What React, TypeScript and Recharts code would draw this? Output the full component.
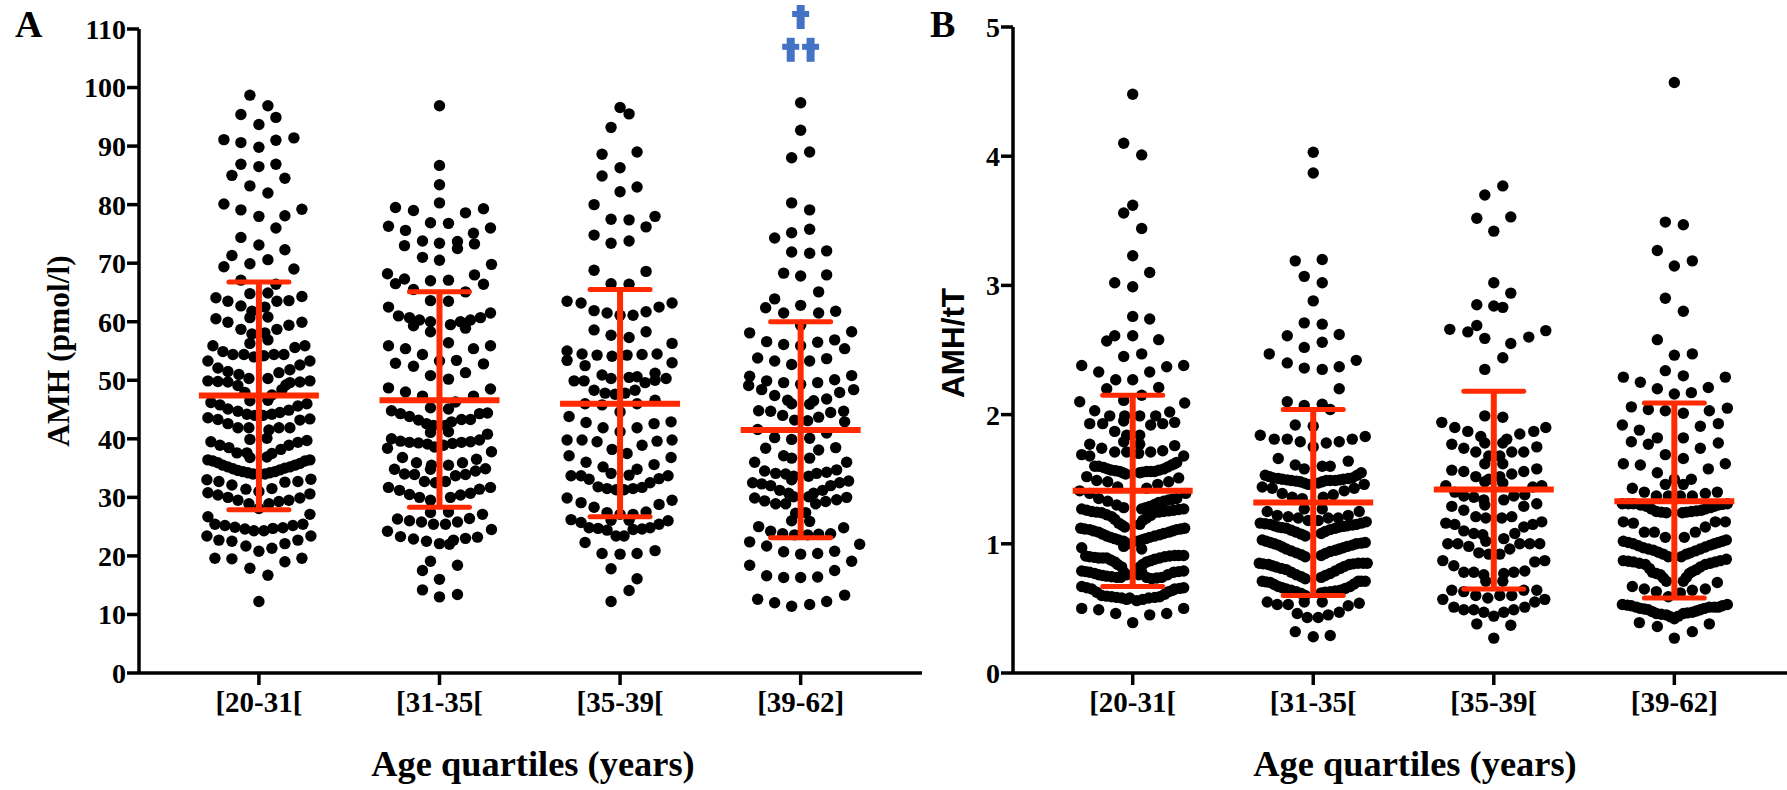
import React from 'react';
import { ScatterChart, Scatter, XAxis, YAxis } from 'recharts';

const categories = ['[20-31[', '[31-35[', '[35-39[', '[39-62]'];
const amhTicks = [0, 10, 20, 30, 40, 50, 60, 70, 80, 90, 100, 110];
const ratioTicks = [0, 1, 2, 3, 4, 5];

// each point is [sideways offset in the swarm (1/180 of a category), value]
const amhQ1: number[][] = [
  [-9,98.7],[9,96.9],[-18,95.4],[17,94.9],[0,93.7],[-35,91.1],[-18,90.6],[0,89.8],[17,91],[35,91.4],
  [-18,86.9],[0,86.5],[17,86.9],[-27,85],[26,84.5],[-9,83.2],[9,82],[-35,80.1],[-18,79.1],[0,78],
  [26,78.1],[43,79.2],[17,76],[-18,74.4],[0,73.1],[26,72.3],[-27,71.3],[9,70.6],[-9,69.9],[-35,69.4],
  [35,69],[-18,67.1],[17,66.4],[-9,64.8],[9,64.9],[-43,64.1],[-31,63.5],[-18,62.7],[18,63.5],[30,63.6],
  [43,64.3],[-7,61.8],[6,62.5],[-9,60.7],[9,60.8],[-43,60.5],[-31,59.9],[-18,58.7],[18,58.7],[30,59.4],
  [43,59.9],[-7,57.9],[6,58.1],[-9,56.3],[9,56.9],[-46,55.9],[46,55.9],[36,55.6],[-36,54.9],[-26,54.4],
  [-15,54.4],[-5,54],[5,54.2],[15,54.4],[25,54.4],[-51,53.3],[51,53.3],[-41,52.1],[41,52.6],[-31,51.5],
  [31,51.8],[-20,51],[20,51.3],[-10,50.3],[9,50.3],[-51,49.9],[-41,49.8],[-31,49.7],[-21,49.1],[51,49.9],
  [41,49.7],[31,49.6],[27,49.2],[23,48.4],[-14,47.9],[13,47.5],[-9,46.5],[9,46.6],[-48,46.2],[-39,45.8],
  [-31,45.1],[-21,44.7],[-12,44.2],[-4,44],[4,44],[13,44.2],[21,44.5],[30,44.9],[39,45.6],[48,46],
  [-51,43.6],[-41,43.3],[-31,42.6],[-21,41.9],[-10,41.9],[51,43.4],[41,43.2],[31,41.9],[20,41.9],[10,41.5],
  [8,40.1],[-9,39.9],[48,39.7],[39,39.4],[30,38.9],[22,38.2],[13,37.5],[8,36.9],[-48,39.5],[-39,38.9],
  [-30,38.5],[-22,37.6],[-12,37.6],[-9,36.8],[-51,36.4],[-46,36.2],[-41,35.9],[-36,35.5],[-31,35.2],[-26,34.9],
  [-21,34.6],[-16,34.4],[-11,34.2],[-6,34],[0,33.9],[6,34],[11,34.2],[16,34.4],[21,34.7],[26,35],
  [31,35.2],[36,35.5],[41,35.8],[46,36.2],[51,36.4],[-52,33],[-40,32.7],[-27,32.1],[-13,31.4],[0,31],
  [13,31.5],[26,32.6],[39,32.7],[52,33.1],[-51,30.8],[-41,30.4],[-31,30],[-21,29.5],[-10,28.9],[0,28.1],
  [10,28.9],[20,29.3],[30,29.5],[41,29.9],[51,30.6],[-51,26.7],[51,27.1],[-44,25.4],[-34,25.2],[-24,24.9],
  [-14,24.6],[-5,24.3],[5,24.3],[14,24.7],[24,24.8],[34,25.2],[44,25.4],[-52,23.4],[-40,22.7],[-27,22.5],
  [-13,21.7],[0,20.8],[13,21.3],[26,22.1],[39,22.7],[52,23.4],[-44,19.6],[-27,19.5],[-9,17.9],[9,16.7],
  [26,19],[43,19.6],[0,12.2],
];
const amhQ2: number[][] = [
  [0,96.9],[0,86.7],[0,83.4],[0,80.3],[-44,79.5],[-26,79],[26,78.6],[44,79.3],[-51,76.3],[-34,75.6],
  [-9,76.9],[9,76.8],[34,75.1],[51,76],[-17,73.8],[0,73.4],[18,73.7],[18,72.5],[-35,73],[35,73.3],
  [-17,71],[0,70.5],[52,69.8],[-52,68.2],[-44,66.5],[-35,67.3],[-9,67],[9,67.1],[35,68],[44,66.4],
  [-26,65.5],[26,65.1],[-9,63.6],[9,63.5],[-51,62.5],[-41,61],[-30,60.7],[-20,60.3],[-26,59.3],[-9,60],
  [11,59.5],[21,60],[31,60.3],[41,60.7],[51,61.5],[26,58.9],[-9,58.3],[9,56.4],[-51,55.9],[-34,55.4],
  [-17,54.4],[34,55.4],[51,55.9],[-44,52.9],[-26,52.4],[0,53.3],[17,53.4],[44,52.8],[-9,50.8],[9,50.2],
  [26,51.3],[-51,48.7],[-34,48],[-17,47.3],[34,47.3],[51,48.5],[-9,45.3],[9,45.1],[16,46.3],[-48,44.8],
  [-39,44.3],[-30,43.8],[-21,43.2],[-13,42.6],[-6,42.3],[6,42.3],[12,42.9],[22,43.3],[31,43.3],[40,44.3],
  [48,44.4],[-9,41.1],[9,41.2],[-48,40],[-39,39.6],[-30,39.4],[-21,39.3],[-12,39.1],[-5,38.6],[4,38.9],
  [13,39.2],[22,39.4],[31,39.5],[40,39.8],[48,40.8],[-52,38.4],[-37,36.8],[-23,35.9],[-8,35.5],[9,35.5],
  [23,35.9],[37,36.5],[52,37.8],[-9,34.8],[-45,34.8],[-35,34],[-25,33.9],[-15,32.7],[-4,32.5],[6,32.7],
  [16,33.7],[26,33.9],[36,34.5],[46,34.9],[-51,31.7],[-40,31.2],[-30,30.5],[-20,30],[-9,29.5],[11,30],
  [21,30.4],[31,30.7],[40,31.4],[51,31.7],[-9,27.4],[9,27.5],[43,27.1],[-42,26.3],[-30,26],[-18,25.8],
  [-6,25.4],[6,25.4],[18,25.8],[30,26.4],[-52,24.2],[-39,23.3],[-26,22.9],[-13,22.5],[0,22.1],[10,22],
  [14,22.7],[26,23],[38,23.2],[52,24.5],[-9,19.1],[-17,17.5],[18,18.4],[0,16],[-17,14.2],[18,13.4],[0,13],
];
const amhQ3: number[][] = [
  [0,96.6],[9,95.5],[-9,93.2],[-18,88.6],[17,89],[0,86.3],[-18,84.9],[17,83],[0,82.2],[-26,80],
  [35,78],[-9,77.5],[9,77.4],[26,76.2],[-26,74.8],[-9,73.4],[9,73.8],[-26,68.8],[26,68.6],[-9,66.5],
  [9,66.4],[-53,63.5],[-39,63.2],[52,63.2],[39,62.5],[-26,61.9],[-13,61.5],[0,61.1],[13,61.1],[26,61.7],
  [-26,58.6],[-9,57.7],[9,57.3],[26,58.3],[52,56.3],[-53,55],[-53,53.4],[-38,54.5],[-23,54.3],[-8,54.1],
  [7,54.3],[22,54.4],[37,54.5],[52,53],[-35,52.5],[-18,50.9],[-9,50.3],[9,50.5],[17,50.6],[35,51.2],
  [-46,49.9],[-36,49.9],[35,50],[46,50.3],[25,49.6],[-26,48.3],[-15,47.8],[-5,47.6],[5,47.8],[15,48.3],
  [35,46.6],[-35,46],[-18,45.8],[17,46],[0,44.6],[-51,43.8],[-34,42.8],[-17,41.9],[0,41.2],[17,41.9],
  [34,42.6],[51,42.9],[-53,39.8],[-38,39.8],[-23,39.5],[-8,38.2],[7,37.5],[22,38.9],[37,39.6],[52,39.8],
  [-51,37.1],[-34,36],[-17,35.2],[51,36.8],[34,35.6],[17,34.8],[-9,34.1],[9,33.8],[-49,33.7],[-39,33.7],
  [-31,33.1],[-22,31.8],[-13,31.5],[-4,31.3],[4,31.3],[13,31.5],[22,31.7],[30,32.5],[39,33.2],[48,33.7],
  [-53,29.9],[-39,29.1],[-26,28.3],[-13,27.4],[0,27.1],[13,27.1],[26,27.5],[39,28.8],[52,29.5],[-49,26.2],
  [-39,25.7],[-31,24.8],[-22,24.7],[-13,24.4],[-9,26.1],[9,26.1],[-4,23.4],[4,23.4],[13,24.5],[22,24.6],
  [30,24.8],[39,25.4],[48,26],[-35,22.3],[-18,20.4],[0,20.3],[17,20.4],[35,20.9],[-9,17.8],[17,16.1],
  [9,14.1],[-9,12.2],
];
const amhQ4: number[][] = [
  [0,97.4],[0,92.7],[-9,88],[9,89],[-9,80.3],[9,79.1],[-9,75.2],[9,75.8],[-26,74.3],[-9,71.9],
  [9,71.7],[26,72.1],[-17,68.3],[0,67.8],[26,68],[18,65.1],[-26,63.9],[-35,62.4],[-17,61.5],[0,62.8],
  [18,61.5],[35,61.8],[0,59.4],[-51,58.1],[51,58.3],[-34,56.6],[-17,56.1],[0,55.9],[17,56.5],[34,56.9],
  [44,55.4],[-43,53.8],[-26,53.3],[-9,52.7],[9,53.3],[26,53.7],[-51,50.7],[51,50.8],[-34,49.9],[-52,49.1],
  [-17,49.6],[0,49.3],[17,49.6],[34,50.1],[-39,48.4],[53,48.4],[39,47.9],[-26,47.4],[-13,46.6],[-9,46],
  [9,45.9],[13,46.5],[26,46.8],[-42,44.8],[-30,44.7],[-18,44],[-6,43.2],[7,43.1],[18,43.7],[30,44.5],
  [43,44.7],[44,42.9],[-43,41.6],[26,41],[-26,40.2],[-9,39.9],[9,40.1],[-35,38.4],[18,38.1],[35,38.5],
  [-17,37.1],[-9,36.7],[9,36.7],[-46,36],[46,36],[-36,34.5],[-25,34.1],[-15,34],[-7,33.6],[-9,33],
  [8,33.6],[16,34.1],[26,34.3],[36,34.7],[-48,32.5],[-39,32.3],[-30,32],[-21,31.2],[-12,30.7],[-7,30.1],
  [8,30.1],[13,30.7],[22,31.2],[30,32],[39,32.5],[48,32.8],[-46,29.9],[-36,29.4],[-25,28.9],[-15,28.9],
  [15,28.9],[25,29.3],[36,29.6],[46,30],[-5,27.3],[5,27.4],[-9,26],[9,25.9],[-42,25],[43,24.8],
  [-30,24.2],[-18,23.8],[-6,23.6],[7,23.6],[18,23.7],[30,23.8],[-51,22.4],[-34,21.7],[-17,20.7],[0,20.3],
  [17,20.4],[34,20.8],[59,22],[51,19.1],[-51,18.4],[-34,16.6],[-17,16.3],[0,16.3],[17,16.4],[34,17.5],
  [-43,12.6],[-26,12],[-9,11.4],[9,11.7],[26,12.2],[44,13.3],
];

const ratioQ1: number[][] = [
  [0,4.48],[-9,4.1],[9,4.01],[0,3.62],[-9,3.56],[9,3.44],[0,3.23],[17,3.1],[-18,3.02],[0,2.99],
  [0,2.76],[17,2.74],[-18,2.61],[0,2.61],[-26,2.57],[26,2.58],[9,2.47],[-9,2.45],[-51,2.38],[51,2.38],
  [34,2.37],[-34,2.33],[17,2.33],[-17,2.27],[0,2.27],[-26,2.2],[26,2.21],[9,2.15],[-9,2.11],[-53,2.1],
  [52,2.09],[-38,2.03],[37,2.02],[-23,1.99],[23,1.99],[-8,1.99],[7,1.99],[-43,1.93],[-30,1.93],[-9,1.95],
  [18,1.92],[30,1.93],[42,1.94],[-18,1.87],[7,1.84],[-6,1.84],[-9,1.79],[7,1.77],[-43,1.77],[42,1.76],
  [-31,1.74],[-18,1.71],[-6,1.71],[6,1.7],[18,1.71],[30,1.72],[-51,1.69],[-43,1.68],[51,1.68],[-38,1.6],
  [-29,1.59],[-21,1.57],[-13,1.56],[-7,1.54],[7,1.55],[14,1.56],[22,1.56],[31,1.58],[39,1.61],[44,1.63],
  [-46,1.52],[46,1.51],[-36,1.49],[-25,1.48],[-15,1.44],[36,1.48],[25,1.46],[14,1.43],[-53,1.41],[-43,1.39],
  [53,1.39],[44,1.35],[-34,1.35],[-25,1.33],[-16,1.3],[-9,1.28],[36,1.34],[26,1.32],[17,1.29],[9,1.27],
  [-51,1.27],[-41,1.25],[-31,1.24],[-21,1.21],[-14,1.16],[-8,1.13],[51,1.27],[41,1.26],[31,1.25],[21,1.24],
  [14,1.2],[7,1.15],[-52,1.12],[-43,1.11],[-34,1.09],[-26,1.06],[-18,1.04],[-9,1.02],[-9,0.98],[9,0.96],
  [52,1.12],[44,1.11],[36,1.09],[27,1.07],[17,1.05],[9,1.03],[-51,0.97],[-43,0.9],[-34,0.89],[-26,0.89],
  [-18,0.86],[-11,0.82],[7,0.82],[14,0.86],[22,0.88],[32,0.9],[42,0.91],[51,0.91],[-51,0.79],[-43,0.78],
  [-34,0.76],[-26,0.75],[-16,0.74],[-9,0.78],[9,0.78],[19,0.73],[29,0.74],[41,0.78],[51,0.79],[-51,0.67],
  [-41,0.65],[51,0.66],[42,0.65],[-31,0.6],[-21,0.59],[-11,0.58],[4,0.56],[16,0.58],[27,0.59],[36,0.63],
  [-3,0.58],[-51,0.5],[-34,0.49],[-17,0.46],[17,0.45],[34,0.46],[51,0.5],[0,0.39],
  [-34,1.6],[-25,1.58],[-17,1.565],[-10,1.55],[10,1.555],[18,1.56],[26,1.57],[35,1.595],[42,1.62],
  [-46,1.26],[-36,1.245],[-26,1.225],[-18,1.19],[-11,1.145],[46,1.265],[36,1.255],[26,1.245],[18,1.22],[10,1.18],
  [40,1.345],[31,1.33],[22,1.305],[13,1.28],
  [-48,1.115],[-39,1.1],[-30,1.075],[-22,1.05],[-14,1.03],[-5,1],[5,1.02],[13,1.04],[22,1.06],[31,1.08],[40,1.1],[48,1.115],
  [-47,0.905],[-38,0.895],[-30,0.89],[-22,0.875],[-15,0.84],[10,0.84],[18,0.87],[27,0.89],[37,0.905],[46,0.91],
  [-47,0.785],[-38,0.77],[-30,0.755],[-21,0.745],[-12,0.74],[-6,0.76],[6,0.76],[14,0.74],[24,0.735],[35,0.76],[46,0.785],
  [-46,0.66],[-36,0.625],[-26,0.595],[-16,0.585],[-6,0.57],[10,0.57],[22,0.585],[32,0.61],[40,0.64],[47,0.655],
];
const ratioQ2: number[][] = [
  [0,4.03],[0,3.87],[-18,3.19],[9,3.2],[-9,3.07],[9,3.02],[0,2.88],[-9,2.71],[9,2.7],[-26,2.61],
  [26,2.62],[-9,2.52],[9,2.56],[-44,2.47],[-26,2.4],[-9,2.36],[9,2.35],[26,2.37],[26,2.2],[43,2.42],
  [-26,2.1],[-9,2.07],[9,2.08],[17,2.04],[-18,1.92],[0,1.91],[-53,1.84],[-39,1.81],[-26,1.81],[-13,1.79],
  [0,1.75],[13,1.78],[26,1.79],[52,1.83],[39,1.81],[-35,1.66],[-18,1.61],[-9,1.58],[9,1.6],[17,1.6],
  [35,1.64],[-48,1.53],[-40,1.51],[-31,1.5],[-22,1.49],[-13,1.48],[-5,1.46],[5,1.47],[13,1.49],[22,1.49],
  [30,1.5],[39,1.51],[48,1.55],[-51,1.44],[-41,1.43],[-31,1.39],[-21,1.36],[-11,1.35],[10,1.36],[20,1.38],
  [31,1.41],[41,1.43],[51,1.46],[-9,1.27],[9,1.27],[-46,1.25],[-36,1.22],[-25,1.21],[-15,1.2],[-5,1.18],
  [5,1.18],[15,1.2],[25,1.2],[35,1.22],[46,1.25],[-53,1.16],[-43,1.15],[-35,1.13],[-27,1.12],[-17,1.09],
  [-8,1.06],[8,1.08],[17,1.11],[26,1.13],[34,1.14],[43,1.15],[53,1.17],[-51,1.03],[-43,1.01],[-35,0.99],
  [-27,0.96],[-17,0.93],[-8,0.9],[8,0.91],[17,0.94],[26,0.96],[34,0.98],[43,1],[52,1.01],[-54,0.85],
  [-45,0.84],[-37,0.82],[-27,0.8],[-17,0.76],[-8,0.73],[8,0.74],[17,0.77],[27,0.81],[36,0.84],[45,0.85],
  [54,0.85],[-51,0.71],[-43,0.7],[-35,0.67],[-27,0.65],[-17,0.63],[-8,0.6],[8,0.62],[17,0.63],[27,0.64],
  [37,0.67],[45,0.71],[52,0.71],[-46,0.55],[-36,0.53],[-25,0.53],[-9,0.55],[9,0.55],[35,0.52],[46,0.54],
  [-16,0.46],[-6,0.43],[5,0.43],[15,0.45],[26,0.47],[-18,0.32],[0,0.28],[17,0.29],
  [-44,1.52],[-35,1.505],[-26,1.495],[-17,1.485],[-9,1.47],[9,1.48],[17,1.49],[26,1.495],[35,1.505],[44,1.53],
  [-48,1.155],[-39,1.14],[-31,1.125],[-22,1.105],[-12,1.075],[12,1.095],[22,1.12],[30,1.135],[39,1.145],[48,1.16],
  [-47,1.02],[-39,1],[-31,0.975],[-22,0.945],[-12,0.915],[12,0.925],[22,0.95],[30,0.97],[39,0.99],[48,1.005],
  [-50,0.845],[-41,0.83],[-32,0.81],[-22,0.78],[-12,0.745],[12,0.755],[22,0.79],[31,0.825],[40,0.845],[50,0.85],
  [-47,0.705],[-39,0.685],[-31,0.66],[-22,0.64],[-12,0.615],[12,0.625],[22,0.635],[32,0.655],[41,0.69],[48,0.71],
];
const ratioQ3: number[][] = [
  [9,3.77],[-9,3.7],[-17,3.52],[17,3.53],[0,3.42],[0,3.02],[17,2.94],[-17,2.85],[0,2.84],[9,2.83],
  [-17,2.69],[-44,2.66],[-26,2.64],[-9,2.59],[52,2.65],[35,2.6],[17,2.55],[9,2.44],[-9,2.35],[-9,1.99],
  [9,1.98],[-52,1.94],[-39,1.9],[-26,1.87],[52,1.9],[40,1.87],[26,1.85],[-13,1.83],[13,1.81],[-9,1.78],
  [9,1.78],[-42,1.77],[-30,1.74],[-18,1.71],[43,1.75],[30,1.71],[18,1.71],[-5,1.68],[6,1.68],[-9,1.62],
  [9,1.62],[-42,1.57],[-30,1.56],[-18,1.52],[43,1.58],[30,1.56],[18,1.54],[-5,1.5],[6,1.52],[-9,1.48],
  [9,1.47],[-48,1.45],[48,1.45],[39,1.44],[-39,1.4],[-30,1.37],[-20,1.36],[-10,1.34],[10,1.34],[20,1.37],
  [31,1.38],[-9,1.3],[-42,1.29],[-30,1.26],[43,1.31],[30,1.29],[-18,1.21],[-8,1.2],[8,1.2],[18,1.21],
  [-48,1.16],[-39,1.15],[-30,1.1],[-20,1.08],[-11,1.07],[-8,1.02],[10,1.04],[21,1.08],[30,1.13],[39,1.15],
  [48,1.17],[-46,1],[-36,1],[-25,0.98],[-15,0.93],[-5,0.92],[6,0.92],[16,0.96],[26,1],[36,1],
  [46,1],[-51,0.87],[-40,0.83],[-30,0.78],[-20,0.78],[-10,0.76],[10,0.77],[20,0.78],[31,0.79],[41,0.86],
  [51,0.87],[-8,0.71],[9,0.71],[-42,0.64],[-30,0.63],[-18,0.6],[-6,0.58],[6,0.6],[18,0.6],[30,0.64],
  [43,0.64],[-51,0.57],[51,0.57],[41,0.55],[-40,0.51],[-30,0.49],[-20,0.49],[-10,0.47],[0,0.44],[10,0.47],
  [20,0.49],[31,0.51],[-17,0.38],[17,0.37],[0,0.27],
];
const ratioQ4: number[][] = [
  [0,4.57],[-9,3.49],[9,3.47],[-17,3.27],[0,3.15],[18,3.19],[-9,2.9],[9,2.8],[-17,2.58],[0,2.46],
  [18,2.47],[-9,2.34],[9,2.3],[-51,2.29],[-34,2.25],[-17,2.2],[0,2.16],[17,2.17],[34,2.21],[51,2.29],
  [-43,2.06],[-26,2.04],[-9,2.03],[9,2.01],[35,2.03],[53,2.05],[-52,1.92],[-35,1.88],[26,1.91],[44,1.93],
  [-43,1.79],[-26,1.77],[-17,1.82],[9,1.82],[26,1.74],[44,1.78],[-9,1.69],[9,1.66],[-51,1.62],[-34,1.61],
  [34,1.58],[51,1.62],[-17,1.55],[0,1.5],[17,1.5],[-9,1.46],[9,1.46],[-42,1.43],[-30,1.4],[-18,1.37],
  [-6,1.37],[6,1.37],[18,1.37],[31,1.39],[43,1.4],[-52,1.31],[-41,1.31],[-28,1.29],[-18,1.25],[-8,1.24],
  [8,1.24],[17,1.25],[27,1.26],[36,1.28],[44,1.3],[53,1.31],[-51,1.17],[-41,1.16],[-30,1.09],[-20,1.09],
  [-9,1.05],[10,1.05],[21,1.09],[31,1.13],[41,1.17],[51,1.17],[-51,1.02],[-41,1],[-31,0.97],[-21,0.95],
  [-11,0.92],[-6,0.9],[7,0.9],[16,0.93],[26,0.96],[36,0.99],[44,1.01],[52,1.03],[-51,0.87],[-41,0.86],
  [-29,0.84],[-22,0.78],[-14,0.76],[-8,0.71],[9,0.71],[15,0.77],[22,0.8],[31,0.84],[41,0.86],[52,0.88],
  [-42,0.67],[-30,0.65],[-18,0.63],[-6,0.59],[6,0.62],[18,0.64],[31,0.65],[43,0.7],[-52,0.53],[-43,0.52],
  [-34,0.5],[-26,0.49],[-18,0.46],[-8,0.45],[0,0.42],[9,0.46],[18,0.47],[26,0.49],[35,0.51],[44,0.51],
  [53,0.53],[-35,0.39],[-17,0.36],[18,0.32],[35,0.38],[0,0.27],
  [-46,1.01],[-36,0.985],[-26,0.96],[-16,0.935],[12,0.92],[21,0.945],[31,0.975],[40,1],[48,1.02],
  [-46,0.865],[-35,0.85],[-25,0.81],[-18,0.77],[-11,0.735],[12,0.74],[18,0.785],[26,0.82],[36,0.85],[46,0.87],
  [-46,1.31],[-34,1.3],[-23,1.27],[-13,1.245],[12,1.245],[22,1.255],[31,1.27],[40,1.29],[48,1.305],
  [-47,0.525],[-38,0.51],[-30,0.495],[30,0.5],[40,0.51],[48,0.52],[-22,0.475],[-13,0.455],[-4,0.435],[4,0.44],[13,0.465],[22,0.48],
];

const amhMean = [47.4, 46.6, 46, 41.5];
const amhUpper = [66.8, 65.1, 65.5, 60];
const amhLower = [27.9, 28.3, 26.7, 23.1];
const ratioMean = [1.41, 1.32, 1.42, 1.33];
const ratioUpper = [2.15, 2.04, 2.18, 2.09];
const ratioLower = [0.67, 0.6, 0.65, 0.58];

// significance marks above the last group of panel A, anchored at the foot of each cross
const crossPoints = [
  { x: 4, y: 110 },
  { x: 3.945, y: 104.4 },
  { x: 4.055, y: 104.4 },
];

const RED = '#ff2a00';
const BLUE = '#4472c4';
const SERIF = '"Liberation Serif", serif';
const SWARM_UNIT = 180.6;
const MEAN_HALF = 60 / SWARM_UNIT;
const CAP_HALF = 30 / SWARM_UNIT;

const toPoints = (rows: number[][], group: number) =>
  rows.map(([dx, y]) => ({ x: group + 1 + dx / SWARM_UNIT, y }));

const across = (group: number, half: number, y: number) => [
  { x: group + 1 - half, y },
  { x: group + 1 + half, y },
];

const Dot = ({ cx, cy }: any) => <circle cx={cx} cy={cy} r={5.7} fill="#000" />;
const NoDot = () => null;

const Cross = ({ cx, cy }: any) => (
  <g fill={BLUE}>
    <rect x={cx - 4} y={cy - 24} width={8} height={24} />
    <rect x={cx - 8.5} y={cy - 18} width={17} height={6} />
  </g>
);

interface PanelProps {
  left: number;
  width: number;
  axisWidth: number;
  domain: [number, number];
  yMax: number;
  yTicks: number[];
  groups: number[][][];
  mean: number[];
  upper: number[];
  lower: number[];
  letter: string;
  letterX: number;
  yTitle: string;
  yTitleX: number;
  yTitleY: number;
  yTitleFont: string;
  xTitleX: number;
  topMargin: number;
  crosses?: boolean;
}

const Panel = (p: PanelProps) => {
  const xTick = { fill: '#000', fontFamily: SERIF, fontWeight: 700, fontSize: 29 };
  const yTick = { fill: '#000', fontFamily: SERIF, fontWeight: 700, fontSize: 28 };
  const line = { stroke: '#000', strokeWidth: 3.5 };
  const thick = { stroke: RED, strokeWidth: 6 };
  const cap = { stroke: RED, strokeWidth: 5, strokeLinecap: 'round' };
  return (
    <div style={{ position: 'absolute', left: p.left, top: 0 }}>
      <ScatterChart
        width={p.width}
        height={790}
        margin={{ top: p.topMargin, right: 0, bottom: 0, left: 0 }}
      >
        <XAxis
          type="number"
          dataKey="x"
          domain={p.domain}
          ticks={[1, 2, 3, 4]}
          interval={0}
          tickFormatter={(v: number) => categories[v - 1]}
          height={790 - 673}
          tickSize={12}
          tickMargin={6}
          tick={xTick}
          axisLine={line}
          tickLine={line}
        />
        <YAxis
          type="number"
          dataKey="y"
          domain={[0, p.yMax]}
          ticks={p.yTicks}
          interval={0}
          width={p.axisWidth}
          tickSize={12}
          tickMargin={1}
          tick={yTick}
          axisLine={line}
          tickLine={line}
        />
        {p.groups.map((rows, i) => (
          <Scatter key={i} data={toPoints(rows, i)} shape={Dot} isAnimationActive={false} />
        ))}
        {p.crosses && <Scatter data={crossPoints} shape={Cross} isAnimationActive={false} />}
        {p.mean.map((m, i) => (
          <Scatter
            key={`stem${i}`}
            data={[{ x: i + 1, y: p.lower[i] }, { x: i + 1, y: p.upper[i] }]}
            line={thick}
            shape={NoDot}
            isAnimationActive={false}
          />
        ))}
        {p.mean.map((m, i) => (
          <Scatter key={`mean${i}`} data={across(i, MEAN_HALF, m)} line={thick} shape={NoDot} isAnimationActive={false} />
        ))}
        {p.upper.map((u, i) => (
          <Scatter key={`upper${i}`} data={across(i, CAP_HALF, u)} line={cap} shape={NoDot} isAnimationActive={false} />
        ))}
        {p.lower.map((l, i) => (
          <Scatter key={`lower${i}`} data={across(i, CAP_HALF, l)} line={cap} shape={NoDot} isAnimationActive={false} />
        ))}
        <text x={p.letterX} y={37} fontFamily={SERIF} fontWeight={700} fontSize={38} fill="#000">
          {p.letter}
        </text>
        <text
          transform={`translate(${p.yTitleX},${p.yTitleY}) rotate(-90)`}
          textAnchor="middle"
          fontFamily={p.yTitleFont}
          fontWeight={700}
          fontSize={31.5}
          fill="#000"
        >
          {p.yTitle}
        </text>
        <text
          x={p.xTitleX}
          y={776}
          textAnchor="middle"
          fontFamily={SERIF}
          fontWeight={700}
          fontSize={36.4}
          fill="#000"
        >
          Age quartiles (years)
        </text>
      </ScatterChart>
    </div>
  );
};

export default function App() {
  return (
    <div style={{ position: 'absolute', left: 0, top: 0, width: 1787, height: 790, background: '#fff', overflow: 'hidden' }}>
      <Panel
        left={0}
        width={922}
        axisWidth={139}
        domain={[0.336, 4.672]}
        yMax={110}
        yTicks={amhTicks}
        groups={[amhQ1, amhQ2, amhQ3, amhQ4]}
        mean={amhMean}
        upper={amhUpper}
        lower={amhLower}
        letter="A"
        letterX={15}
        yTitle="AMH (pmol/l)"
        yTitleX={69}
        yTitleY={351}
        yTitleFont={SERIF}
        xTitleX={533}
        topMargin={29}
        crosses
      />
      <Panel
        left={925}
        width={862}
        axisWidth={88}
        domain={[0.337, 4.624]}
        yMax={5}
        yTicks={ratioTicks}
        groups={[ratioQ1, ratioQ2, ratioQ3, ratioQ4]}
        mean={ratioMean}
        upper={ratioUpper}
        lower={ratioLower}
        letter="B"
        letterX={5}
        yTitle="AMH/tT"
        yTitleX={39}
        yTitleY={343}
        yTitleFont={'"Liberation Sans", sans-serif'}
        xTitleX={490}
        topMargin={27}
      />
    </div>
  );
}
